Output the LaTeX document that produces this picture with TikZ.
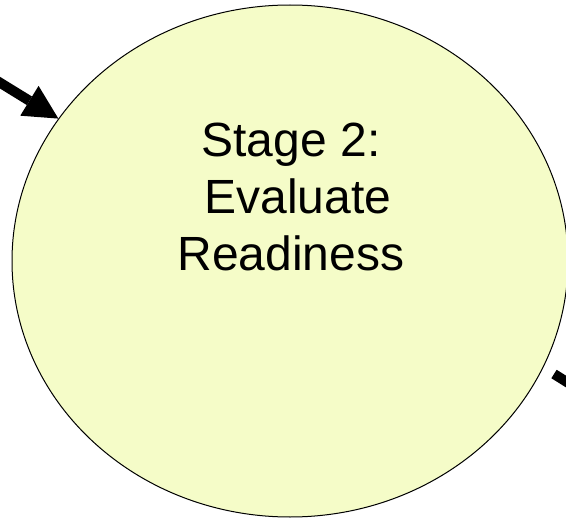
\documentclass[tikz,border=0pt]{standalone}
\usepackage{fontspec}
\setmainfont{Liberation Sans}
\usetikzlibrary{positioning}
\usetikzlibrary{shapes}
\usetikzlibrary{calc}
\usetikzlibrary{arrows.meta}
\definecolor{stagefill}{RGB}{245,252,200}

\begin{document}
\begin{tikzpicture}[x=1pt, y=1pt,
stage/.style ={ellipse, draw, fill=stagefill, line width=1pt, inner sep=0pt, minimum width=556pt, minimum height=512pt},
flow/.style ={line width=10pt, -{Triangle[length=34pt,width=35pt,line width=0pt]}}]
\useasboundingbox (0,0) rectangle (566,-519);
\node[stage] (S2) at (290,-261) {};
\node[align=center, font=\fontsize{48}{57}\selectfont] (S2text) at (291,-197) {Stage 2:\\\hspace*{0.28em}Evaluate\\Readiness};
% arrow coming in from the previous stage
\coordinate (inA) at (-19,-71);
\draw[flow] (inA) -- (S2);
% arrow going out to the next stage
\coordinate (outA) at (554,-374);
\coordinate (outB) at ($(outA)+(-32:70)$);
\draw[flow] (outA) -- (outB);
\end{tikzpicture}
\end{document}
